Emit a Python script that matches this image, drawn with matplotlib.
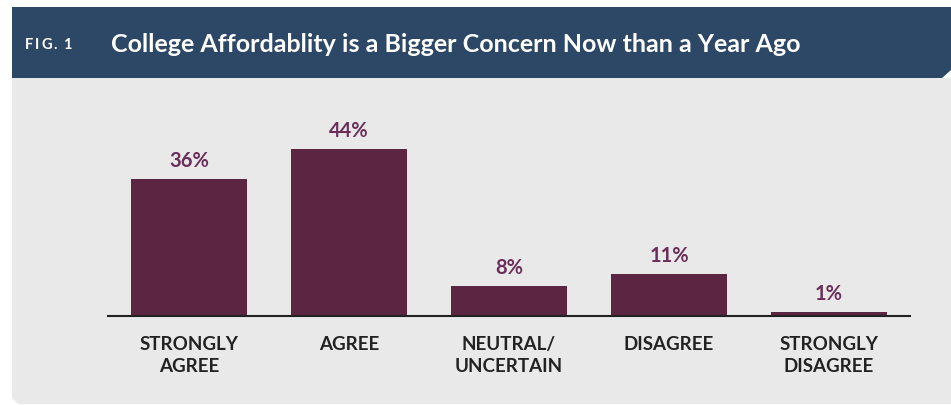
import matplotlib
matplotlib.use("Agg")
import matplotlib.pyplot as plt
from matplotlib.patches import Polygon

categories = ["STRONGLY\nAGREE", "AGREE", "NEUTRAL/\nUNCERTAIN", "DISAGREE", "STRONGLY\nDISAGREE"]
values = [36, 44, 8, 11, 1]
value_labels = ["36%", "44%", "8%", "11%", "1%"]

title = "College Affordablity is a Bigger Concern Now than a Year Ago"
fig_label = "FIG. 1"

W, H = 951, 406
header_color = "#2d4766"
panel_color = "#e9e9e9"
bar_color = "#5c2642"
value_color = "#6b2d5a"
text_color = "#222222"

plt.rcParams["font.family"] = ["Lato", "DejaVu Sans"]


def px(x, y):
    # pixel coords (from top-left) to figure fraction
    return (x / W, 1 - y / H)


fig = plt.figure(figsize=(W / 100, H / 100), dpi=100)
fig.patch.set_facecolor("white")

header = Polygon([px(12, 8), px(951, 8), px(951, 71), px(942, 79), px(12, 79)],
                 closed=True, transform=fig.transFigure, facecolor=header_color,
                 edgecolor="none", zorder=0)
panel = Polygon([px(12, 79), px(951, 79), px(951, 405), px(18, 405), px(12, 399)],
                closed=True, transform=fig.transFigure, facecolor=panel_color,
                edgecolor="none", zorder=0)
fig.patches.extend([header, panel])

# "FIG. 1" drawn letter by letter to get the wide tracking
renderer = fig.canvas.get_renderer()
cx = 25
for ch in fig_label:
    t = fig.text(*px(cx, 45), ch, color="white", fontsize=10.5, fontweight="bold",
                 va="center", ha="left")
    if ch == " ":
        cx += 4
    else:
        cx += t.get_window_extent(renderer).width + 1.8

fig.text(*px(111, 45), title, color="white", fontsize=18, fontweight="bold",
         va="center", ha="left")

# axes: x from 108 to 910 px, baseline at y=317 px, 3.8 px per percent
left, right = 108, 910
base = 317
ppu = 3.8
ymax = 50
ax = fig.add_axes([left / W, (H - base) / H, (right - left) / W, ymax * ppu / H])
ax.set_zorder(2)
ax.set_facecolor("none")

x = list(range(len(categories)))
ax.bar(x, values, width=116 / 160, color=bar_color, zorder=2)
ax.set_xlim(-0.506, 4.506)
ax.set_ylim(0, ymax)

for xi, v, lab in zip(x, values, value_labels):
    ax.annotate(lab, (xi, v), xytext=(0, 6.5), textcoords="offset points",
                ha="center", va="bottom", fontsize=14.5, fontweight="bold",
                color=value_color)

ax.set_xticks(x)
ax.set_xticklabels(categories, fontsize=13.5, fontweight="bold", color=text_color,
                   linespacing=1.3)
ax.tick_params(axis="x", length=0, pad=14)
ax.set_yticks([])
for s in ["top", "left", "right"]:
    ax.spines[s].set_visible(False)
ax.spines["bottom"].set_color("#222222")
ax.spines["bottom"].set_linewidth(1.5)
ax.spines["bottom"].set_zorder(3)

fig.savefig("out.png", dpi=100)
